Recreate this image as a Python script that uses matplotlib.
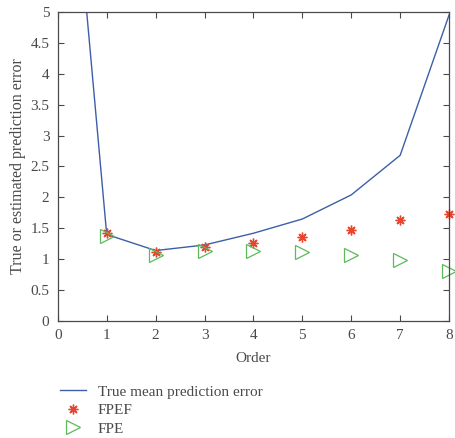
import matplotlib
matplotlib.use("Agg")
import matplotlib.pyplot as plt
from matplotlib.lines import Line2D

plt.rcParams['font.family'] = ['Liberation Serif', 'DejaVu Serif']

# values
order = [0, 1, 2, 3, 4, 5, 6, 7, 8]
true_err = [10.2, 1.40, 1.14, 1.23, 1.42, 1.65, 2.04, 2.68, 4.95]
fpef_order = [1, 2, 3, 4, 5, 6, 7, 8]
fpef = [1.42, 1.11, 1.19, 1.27, 1.36, 1.47, 1.63, 1.73]
fpe_order = [1, 2, 3, 4, 5, 6, 7, 8]
fpe = [1.38, 1.07, 1.13, 1.14, 1.12, 1.07, 0.99, 0.81]

BLUE = '#3c5fa8'
RED = '#e8452f'
GREEN = '#5cba5c'
GREY = '#4a4a4a'

fig = plt.figure(figsize=(4.55, 4.38), dpi=100)
ax = fig.add_axes([0.127, 0.267, 0.860, 0.706])

ax.plot(order, true_err, color=BLUE, lw=1.0)
ax.plot(fpef_order, fpef, ls='none', marker=(8, 2, 0), ms=7, mew=1.0,
        color=RED, clip_on=False)
ax.plot(fpe_order, fpe, ls='none', marker='>', ms=10.5, mfc='none', mew=0.9,
        color=GREEN, clip_on=False)

ax.set_xlim(0, 8)
ax.set_ylim(0, 5)
ax.set_xticks(range(0, 9))
ax.set_yticks([0, 0.5, 1, 1.5, 2, 2.5, 3, 3.5, 4, 4.5, 5])
ax.set_yticklabels(['0', '0.5', '1', '1.5', '2', '2.5', '3', '3.5', '4', '4.5', '5'])
ax.tick_params(direction='in', top=True, right=True, length=4, width=0.8,
               colors=GREY, labelsize=11, labelcolor=GREY, pad=6)
for s in ax.spines.values():
    s.set_color(GREY)
    s.set_linewidth(0.9)

ax.set_xlabel('Order', fontsize=11, color=GREY, labelpad=7)
ax.set_ylabel('True or estimated prediction error', fontsize=11.5, color=GREY,
              labelpad=3)

handles = [
    Line2D([], [], color=BLUE, lw=1.0),
    Line2D([], [], ls='none', marker=(8, 2, 0), ms=7, color=RED),
    Line2D([], [], ls='none', marker='>', ms=10.5, mfc='none', mew=0.9, color=GREEN),
]
labels = ['True mean prediction error', 'FPEF', 'FPE']
leg = fig.legend(handles, labels, loc='upper left',
                 bbox_to_anchor=(0.118, 0.135), frameon=False,
                 fontsize=11, handlelength=1.7, handletextpad=0.8,
                 labelspacing=0.32, borderaxespad=0)
for t in leg.get_texts():
    t.set_color(GREY)

fig.savefig('out.png', dpi=100)
